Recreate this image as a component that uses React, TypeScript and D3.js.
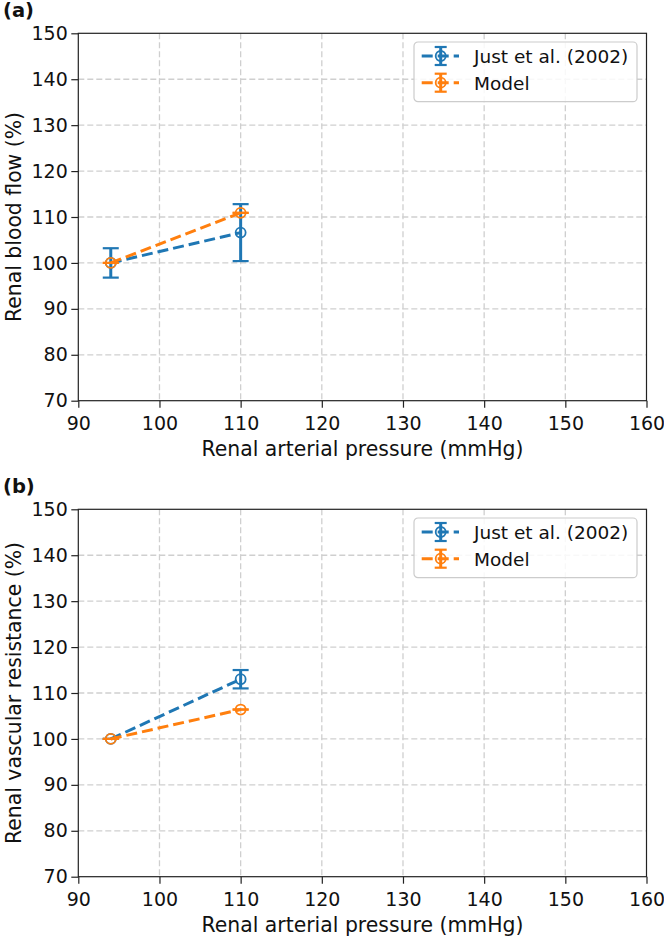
import React, { useEffect, useRef } from 'react';
import * as d3 from 'd3';

// Renal arterial pressure (mmHg)
const pressure = [94, 110];

// (a) renal blood flow (%)
const rbfJust = [100, 106.6];
const rbfJustErr = [3.2, 6.2];
const rbfModel = [100, 110.9];

// (b) renal vascular resistance (%)
const rvrJust = [100, 113.0];
const rvrJustErr = [0, 2.0];
const rvrModel = [100, 106.4];

const xTicks = [90, 100, 110, 120, 130, 140, 150, 160];
const yTicks = [70, 80, 90, 100, 110, 120, 130, 140, 150];

const seriesNames = ['Just et al. (2002)', 'Model'];
const colors = ['#1f77b4', '#ff7f0e'];

const W = 664;
const H = 937;
const FONT = '"DejaVu Sans", sans-serif';

interface Series {
  y: number[];
  err: number[];
  color: string;
}

const App: React.FC = () => {
  const svgRef = useRef<SVGSVGElement>(null);

  useEffect(() => {
    const root = d3.select(svgRef.current);
    root.selectAll('*').remove();

    const left = 78.3;
    const right = 646.5;
    const plotH = 367.4;

    const drawPanel = (top: number, label: string, yLabel: string, series: Series[]) => {
      const x = d3.scaleLinear().domain([90, 160]).range([left, right]);
      const y = d3.scaleLinear().domain([70, 150]).range([top + plotH, top]);
      const g = root.append('g');

      // grid
      g.selectAll('.vgrid')
        .data(xTicks.slice(1, -1))
        .enter()
        .append('line')
        .attr('x1', d => x(d))
        .attr('x2', d => x(d))
        .attr('y1', top)
        .attr('y2', top + plotH)
        .attr('stroke', '#cfcfcf')
        .attr('stroke-width', 1.3)
        .attr('stroke-dasharray', '6,3');
      g.selectAll('.hgrid')
        .data(yTicks.slice(1, -1))
        .enter()
        .append('line')
        .attr('x1', left)
        .attr('x2', right)
        .attr('y1', d => y(d))
        .attr('y2', d => y(d))
        .attr('stroke', '#cfcfcf')
        .attr('stroke-width', 1.3)
        .attr('stroke-dasharray', '6,3');

      // series
      series.forEach(s => {
        const line = d3.line<number>()
          .x((_, i) => x(pressure[i]))
          .y(d => y(d));
        g.append('path')
          .datum(s.y)
          .attr('d', line)
          .attr('fill', 'none')
          .attr('stroke', s.color)
          .attr('stroke-width', 3)
          .attr('stroke-dasharray', '11,5');

        s.y.forEach((v, i) => {
          const cx = x(pressure[i]);
          const e = s.err[i];
          g.append('line')
            .attr('x1', cx).attr('x2', cx)
            .attr('y1', y(v - e)).attr('y2', y(v + e))
            .attr('stroke', s.color).attr('stroke-width', 3);
          [v - e, v + e].forEach(c => {
            g.append('line')
              .attr('x1', cx - 8).attr('x2', cx + 8)
              .attr('y1', y(c)).attr('y2', y(c))
              .attr('stroke', s.color).attr('stroke-width', 2.2);
          });
          g.append('circle')
            .attr('cx', cx).attr('cy', y(v)).attr('r', 5)
            .attr('fill', 'none')
            .attr('stroke', s.color).attr('stroke-width', 1.8);
        });
      });

      // frame
      g.append('rect')
        .attr('x', left).attr('y', top)
        .attr('width', right - left).attr('height', plotH)
        .attr('fill', 'none').attr('stroke', '#222').attr('stroke-width', 1.2);

      // axes
      const xAxis = g.append('g')
        .attr('transform', `translate(0,${top + plotH})`)
        .call(d3.axisBottom(x).tickValues(xTicks).tickSize(7).tickPadding(8.5).tickFormat(d3.format('d')));
      const yAxis = g.append('g')
        .attr('transform', `translate(${left},0)`)
        .call(d3.axisLeft(y).tickValues(yTicks).tickSize(7).tickPadding(3.5).tickFormat(d3.format('d')));
      [xAxis, yAxis].forEach(a => {
        a.select('.domain').remove();
        a.selectAll('line').attr('stroke', '#222').attr('stroke-width', 1.2);
        a.selectAll('text')
          .attr('fill', '#111')
          .style('font-family', FONT)
          .style('font-size', '19px');
      });

      g.append('text')
        .attr('x', (left + right) / 2)
        .attr('y', top + plotH + 55)
        .attr('text-anchor', 'middle')
        .style('font-family', FONT)
        .style('font-size', '20.4px')
        .attr('fill', '#111')
        .text('Renal arterial pressure (mmHg)');

      g.append('text')
        .attr('transform', `translate(20.5,${top + plotH / 2}) rotate(-90)`)
        .attr('text-anchor', 'middle')
        .style('font-family', FONT)
        .style('font-size', '20.4px')
        .attr('fill', '#111')
        .text(yLabel);

      g.append('text')
        .attr('x', 3)
        .attr('y', top - 16.5)
        .style('font-family', FONT)
        .style('font-size', '19.5px')
        .style('font-weight', 'bold')
        .attr('fill', '#111')
        .text(label);

      // legend
      const lg = g.append('g').attr('transform', `translate(414,${top + 8.7})`);
      lg.append('rect')
        .attr('width', 223).attr('height', 59.7).attr('rx', 4)
        .attr('fill', 'white').attr('fill-opacity', 0.85)
        .attr('stroke', '#cccccc').attr('stroke-width', 1.2);
      seriesNames.forEach((name, i) => {
        const cy = 14 + i * 26.7;
        const c = colors[i];
        lg.append('line')
          .attr('x1', 7.7).attr('x2', 45).attr('y1', cy).attr('y2', cy)
          .attr('stroke', c).attr('stroke-width', 3).attr('stroke-dasharray', '11,5');
        lg.append('line')
          .attr('x1', 26.7).attr('x2', 26.7).attr('y1', cy - 9).attr('y2', cy + 9)
          .attr('stroke', c).attr('stroke-width', 3);
        [cy - 9, cy + 9].forEach(yy => {
          lg.append('line')
            .attr('x1', 20.7).attr('x2', 32.7).attr('y1', yy).attr('y2', yy)
            .attr('stroke', c).attr('stroke-width', 2.2);
        });
        lg.append('circle')
          .attr('cx', 26.7).attr('cy', cy).attr('r', 5)
          .attr('fill', 'none').attr('stroke', c).attr('stroke-width', 1.8);
        lg.append('text')
          .attr('x', 60).attr('y', cy + 7)
          .style('font-family', FONT)
          .style('font-size', '18.5px')
          .attr('fill', '#111')
          .text(name);
      });
    };

    drawPanel(33.3, '(a)', 'Renal blood flow (%)', [
      { y: rbfJust, err: rbfJustErr, color: colors[0] },
      { y: rbfModel, err: [0, 0], color: colors[1] },
    ]);
    drawPanel(509.3, '(b)', 'Renal vascular resistance (%)', [
      { y: rvrJust, err: rvrJustErr, color: colors[0] },
      { y: rvrModel, err: [0, 0], color: colors[1] },
    ]);
  }, []);

  return (
    <svg
      ref={svgRef}
      width={W}
      height={H}
      style={{ position: 'absolute', left: 0, top: 0, background: 'white' }}
    />
  );
};

export default App;
